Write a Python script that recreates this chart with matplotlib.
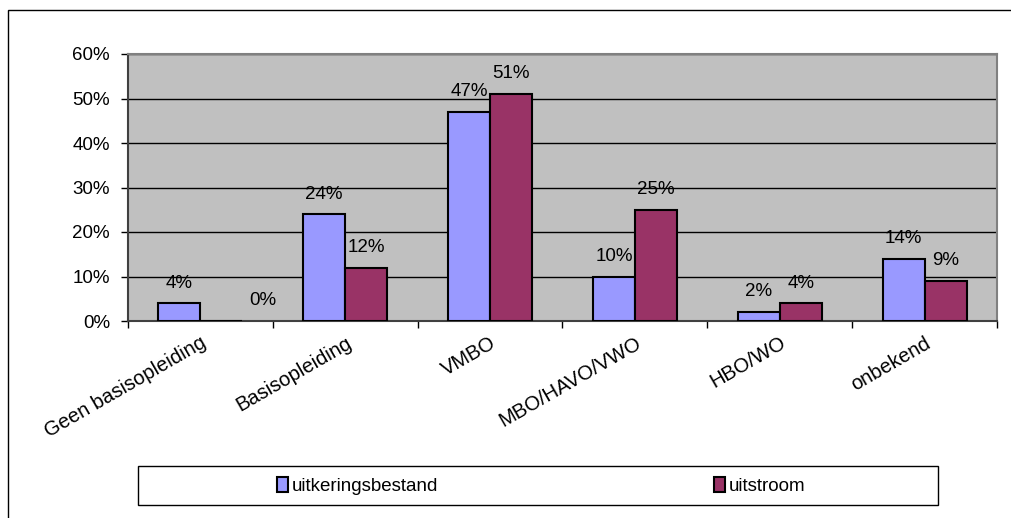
import matplotlib.pyplot as plt
from matplotlib.patches import Rectangle
from matplotlib.ticker import PercentFormatter
import numpy as np

categories = ['Geen basisopleiding', 'Basisopleiding', 'VMBO', 'MBO/HAVO/VWO', 'HBO/WO', 'onbekend']
uitkeringsbestand = [4, 24, 47, 10, 2, 14]
uitstroom = [0, 12, 51, 25, 4, 9]
series_names = ['uitkeringsbestand', 'uitstroom']
y_ticks = [0, 10, 20, 30, 40, 50, 60]

plt.rcParams['font.family'] = ['Liberation Sans', 'DejaVu Sans']
plt.rcParams['font.size'] = 13.5

fig = plt.figure(figsize=(10.11, 5.18), dpi=100)
ax = fig.add_axes([128 / 1011, 1 - 321 / 518, 869 / 1011, 267 / 518])

# outer chart frame (cropped on right and bottom in the original)
fig.patches.append(Rectangle((8 / 1011, -0.2), 1.2, 1.2 - 10 / 518,
                             transform=fig.transFigure, fill=False,
                             edgecolor='black', lw=1))

ax.set_facecolor('#C0C0C0')
x = np.arange(len(categories))
w = 0.29
bars1 = ax.bar(x - w / 2, uitkeringsbestand, w, color='#9999FF', edgecolor='black', lw=1.5,
               label=series_names[0], zorder=3)
bars2 = ax.bar(x + w / 2, uitstroom, w, color='#993366', edgecolor='black', lw=1.5,
               label=series_names[1], zorder=3)

for bars, vals in [(bars1, uitkeringsbestand), (bars2, uitstroom)]:
    for b, v in zip(bars, vals):
        cx = b.get_x() + b.get_width() / 2
        dx = 30 if v == 0 else 0  # zero label sits beside the empty bar
        ax.annotate(f'{v}%', (cx, v), xytext=(dx, 14.5), textcoords='offset points',
                    ha='center', va='center', zorder=4)

ax.set_ylim(0, 60)
ax.set_xlim(-0.5, len(categories) - 0.5)
ax.set_yticks(y_ticks)
ax.yaxis.set_major_formatter(PercentFormatter(decimals=0))
ax.yaxis.grid(True, color='black', lw=1)
ax.set_axisbelow(True)
ax.tick_params(axis='y', length=5, width=1, pad=8)

ax.set_xticks(x)
ax.set_xticklabels(categories, rotation=30, ha='right', rotation_mode='anchor', fontsize=14.5)
ax.tick_params(axis='x', which='major', length=0, pad=9)
ax.set_xticks(np.arange(len(categories) + 1) - 0.5, minor=True)
ax.tick_params(axis='x', which='minor', length=5, width=1, direction='out')

for s in ['top', 'right']:
    ax.spines[s].set_color('#808080')
    ax.spines[s].set_linewidth(1.5)
for s in ['left', 'bottom']:
    ax.spines[s].set_color('#404040')
    ax.spines[s].set_linewidth(1.5)

# legend box
fig.patches.append(Rectangle((138 / 1011, 1 - 505 / 518), 800 / 1011, 39 / 518,
                             transform=fig.transFigure, fill=False,
                             edgecolor='black', lw=1))
fig.legend(handles=[bars1, bars2], labels=series_names, loc='center',
           bbox_to_anchor=(541 / 1011, 1 - 486 / 518), ncol=2, frameon=False,
           handlelength=0.6, handleheight=0.9, handletextpad=0.2, columnspacing=14.7)

fig.savefig('out.png', dpi=100)
